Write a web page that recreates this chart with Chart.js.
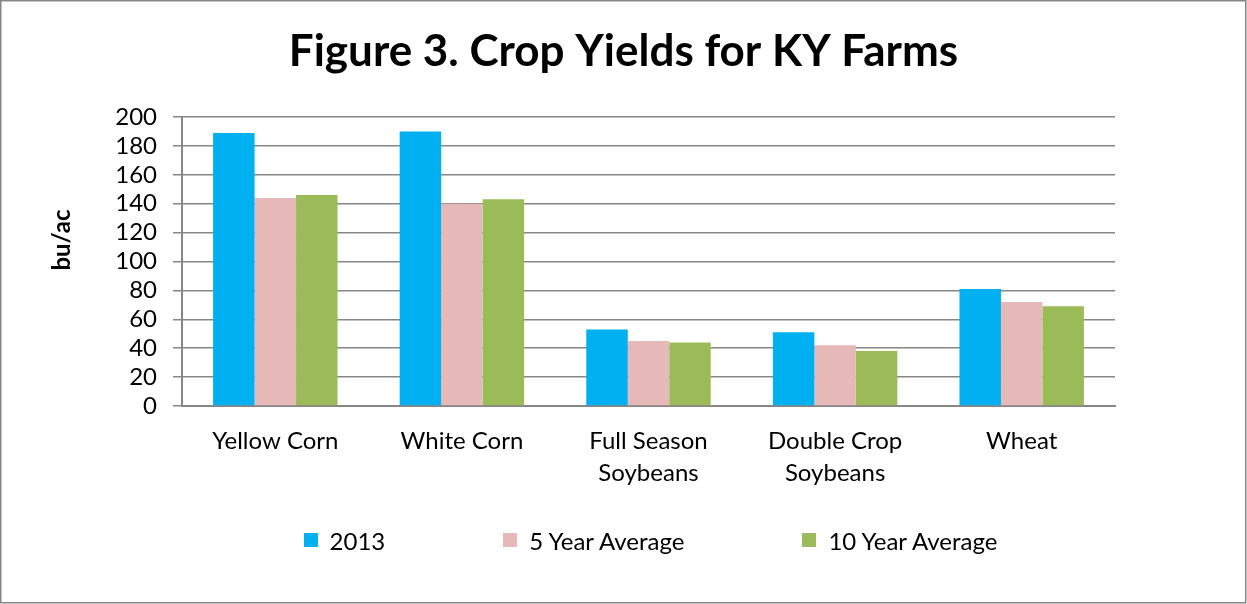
<!DOCTYPE html>
<html>
<head>
<meta charset="utf-8">
<script src="https://cdn.jsdelivr.net/npm/chart.js@4.4.1/dist/chart.umd.min.js"></script>
<style>
  html, body { margin: 0; padding: 0; background: #fff; }
  #wrap { position: relative; width: 1247px; height: 604px; }
  canvas { display: block; }
  #legend { position: absolute; left: 60px; width: 1181px; top: 528px; height: 24px;
            display: flex; justify-content: center; align-items: center;
            font-family: Lato, "Open Sans", sans-serif; font-size: 24px; color: #000; }
  #legend .item { display: flex; align-items: center; margin-right: 118px; white-space: nowrap; }
  #legend .item:last-child { margin-right: 0; }
  #legend .box { width: 14px; height: 14px; margin-right: 12px; }
</style>
</head>
<body>
<div id="wrap">
  <canvas id="chart" width="1247" height="604"></canvas>
  <div id="legend"></div>
</div>
<script>
// crop yields, bu/ac
var crops = ['Yellow Corn', 'White Corn', ['Full Season', 'Soybeans'], ['Double Crop', 'Soybeans'], 'Wheat'];
var seriesNames = ['2013', '5 Year Average', '10 Year Average'];
var yield2013 = [189, 190, 53, 51, 81];
var fiveYearAvg = [144, 140, 45, 42, 72];
var tenYearAvg = [146, 143, 44, 38, 69];
var yTicks = [0, 20, 40, 60, 80, 100, 120, 140, 160, 180, 200];

var colors = ['#00b0f0', '#e6b9b8', '#9bbb59'],
    gridColor = '#868686',
    fontFamily = 'Lato, "Open Sans", sans-serif',
    tickSize = 24,
    titleSize = 44,
    titleLH = titleSize * 1.2;

var outerBorder = {
  id: 'outerBorder',
  beforeDraw: function(chart){
    var ctx = chart.ctx;
    ctx.save();
    ctx.fillStyle = '#fff';
    ctx.fillRect(0, 0, chart.width, chart.height);
    ctx.strokeStyle = gridColor;
    ctx.lineWidth = 1.5;
    ctx.strokeRect(0.75, 0.75, chart.width - 2, chart.height - 2);
    ctx.restore();
  }
};

// axis title sits a bit above the plot centre, as in the original
var yAxisTitle = {
  id: 'yAxisTitle',
  afterDraw: function(chart){
    var ctx = chart.ctx;
    ctx.save();
    ctx.translate(62, 240);
    ctx.rotate(-Math.PI / 2);
    ctx.font = 'bold 24px ' + fontFamily;
    ctx.fillStyle = '#000';
    ctx.textAlign = 'center';
    ctx.textBaseline = 'middle';
    ctx.fillText('bu/ac', 0, 0);
    ctx.restore();
  }
};

// legend as html so the wide gaps between entries don't fight the axis layout
var htmlLegend = {
  id: 'htmlLegend',
  afterUpdate: function(chart){
    var el = document.getElementById('legend');
    el.innerHTML = '';
    chart.options.plugins.legend.labels.generateLabels(chart).forEach(function(item){
      var div = document.createElement('div');
      div.className = 'item';
      var box = document.createElement('span');
      box.className = 'box';
      box.style.background = item.fillStyle;
      var txt = document.createElement('span');
      txt.textContent = item.text;
      div.appendChild(box);
      div.appendChild(txt);
      el.appendChild(div);
    });
  }
};

var datasets = [yield2013, fiveYearAvg, tenYearAvg].map(function(vals, i){
  return {
    label: seriesNames[i],
    data: vals,
    backgroundColor: colors[i],
    borderWidth: 0,
    categoryPercentage: 0.667,
    barPercentage: 1.0
  };
});

var myChart = new Chart(document.getElementById('chart'), {
  type: 'bar',
  data: { labels: crops, datasets: datasets },
  plugins: [outerBorder, yAxisTitle, htmlLegend],
  options: {
    responsive: false,
    animation: false,
    devicePixelRatio: 1,
    layout: { padding: { left: 0, right: 0, top: 0, bottom: 108 } },
    plugins: {
      title: {
        display: true,
        text: 'Figure 3. Crop Yields for KY Farms',
        color: '#000',
        font: { family: fontFamily, size: titleSize, weight: 'bold', lineHeight: 1.2 },
        padding: { top: 52 - titleLH / 2, bottom: 117 - (52 - titleLH / 2) - titleLH }
      },
      legend: { display: false },
      tooltip: { enabled: false }
    },
    scales: {
      x: {
        grid: { display: false, drawTicks: false },
        border: { display: true, color: gridColor, width: 2 },
        ticks: {
          color: '#000',
          padding: 19,
          maxRotation: 0,
          autoSkip: false,
          font: { family: fontFamily, size: tickSize, lineHeight: 1.33 }
        },
        afterFit: function(scale){ scale.height = 90; }
      },
      y: {
        position: 'left',
        min: 0,
        max: 200,
        afterBuildTicks: function(scale){
          scale.ticks = yTicks.map(function(v){ return { value: v }; });
        },
        grid: { color: gridColor, lineWidth: 1.5, tickLength: 9, drawTicks: true },
        border: { display: true, color: gridColor, width: 2 },
        ticks: {
          color: '#000',
          padding: 16,
          autoSkip: false,
          font: { family: fontFamily, size: tickSize }
        },
        afterFit: function(scale){ scale.width = 182; }
      },
      spacer: {
        position: 'right',
        display: true,
        grid: { display: false, drawTicks: false },
        border: { display: false },
        ticks: { display: false },
        afterFit: function(scale){ scale.width = 132; }
      }
    }
  }
});
</script>
</body>
</html>
